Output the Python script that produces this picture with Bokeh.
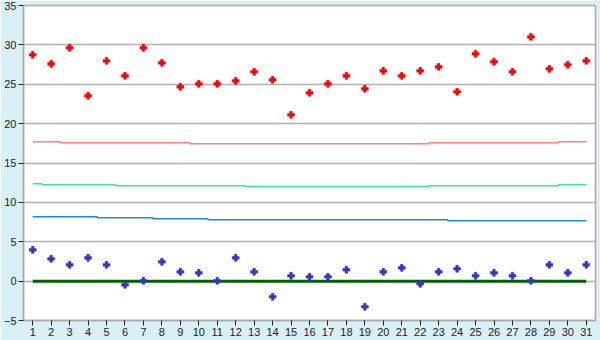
from bokeh.plotting import figure
from bokeh.models import Range1d, FixedTicker
from bokeh.embed import file_html
from bokeh.resources import INLINE

days = list(range(1, 32))

upper_values = [28.74, 27.59, 29.63, 23.53, 27.97, 26.07, 29.63, 27.72, 24.67, 25.05,
                25.05, 25.43, 26.58, 25.56, 21.12, 23.91, 25.05, 26.07, 24.42, 26.70,
                26.07, 26.70, 27.21, 24.04, 28.86, 27.85, 26.58, 31.02, 26.96, 27.47,
                27.97]

lower_values = [3.97, 2.83, 2.07, 2.96, 2.07, -0.47, 0.04, 2.45, 1.18, 1.05,
                0.04, 2.96, 1.18, -1.99, 0.68, 0.55, 0.55, 1.44, -3.26, 1.18,
                1.69, -0.34, 1.18, 1.57, 0.68, 1.05, 0.68, 0.04, 2.07, 1.05,
                2.07]

red_line = [17.69] * 2 + [17.56] * 7 + [17.44] * 13 + [17.56] * 7 + [17.69] * 2
green_line = [12.36] * 1 + [12.23] * 4 + [12.10] * 7 + [12.02] * 10 + [12.10] * 7 + [12.23] * 2
blue_line = [8.17] * 4 + [8.04] * 3 + [7.91] * 3 + [7.79] * 13 + [7.66] * 8
zero_line = [0] * 31

y_ticks = [-5, 0, 5, 10, 15, 20, 25, 30, 35]

p = figure(width=600, height=340, output_backend="svg", toolbar_location=None,
           x_range=Range1d(0.5, 31.5), y_range=Range1d(-5, 35),
           min_border_left=20, min_border_right=5, min_border_top=5, min_border_bottom=20)

p.background_fill_color = "white"
p.border_fill_color = "#D9F0F6"
p.outline_line_color = "#aaaaaa"
p.outline_line_width = 1.5

p.xgrid.grid_line_color = None
p.ygrid.grid_line_color = "#b0b0b0"
p.ygrid.grid_line_width = 1.5

p.xaxis.ticker = FixedTicker(ticks=days)
p.yaxis.ticker = FixedTicker(ticks=y_ticks)
for ax in (p.xaxis, p.yaxis):
    ax.axis_line_color = "#aaaaaa"
    ax.axis_line_width = 1.5
    ax.major_tick_line_color = "#222222"
    ax.major_tick_in = 0
    ax.major_tick_out = 5
    ax.minor_tick_line_color = None
    ax.major_label_text_font = "Liberation Sans"
    ax.major_label_text_font_size = "11px"
    ax.major_label_text_color = "#222222"
    ax.major_label_standoff = 2

p.step(days, red_line, mode="center", line_color="#FF8080", line_width=1.5)
p.step(days, green_line, mode="center", line_color="#33EE88", line_width=1.5)
p.step(days, blue_line, mode="center", line_color="#1E88E5", line_width=1.5)
p.line(days, zero_line, line_color="#006400", line_width=3)

p.scatter(days, upper_values, marker="plus", size=7, fill_color="#FF0000", line_color="#FF0000", line_width=0.5)
p.scatter(days, lower_values, marker="plus", size=7, fill_color="#3333CC", line_color="#3333CC", line_width=0.5)

open("out.html", "w").write(file_html(p, INLINE))
